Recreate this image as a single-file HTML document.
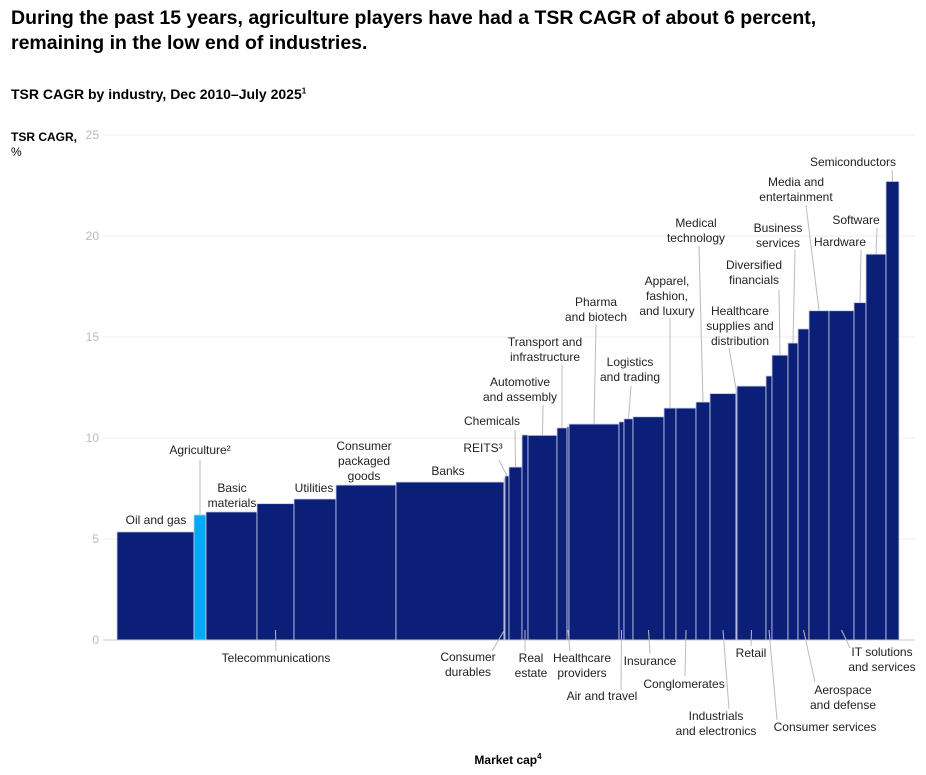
<!DOCTYPE html>
<html><head><meta charset="utf-8">
<style>
body{margin:0;background:#fff;width:926px;height:775px;overflow:hidden;font-family:"Liberation Sans",sans-serif;}
#t{position:absolute;left:11px;top:6px;font-size:19.5px;font-weight:bold;line-height:25px;color:#000;}
#s{position:absolute;left:11px;top:86px;font-size:14px;font-weight:bold;color:#000;}
#yl{position:absolute;left:11px;top:130px;font-size:12px;line-height:15px;color:#000;}
#xl{position:absolute;left:0;width:1016px;text-align:center;top:752px;font-size:12px;font-weight:bold;}
svg{position:absolute;left:0;top:0;}
</style></head><body>
<div id="t">During the past 15 years, agriculture players have had a TSR CAGR of about 6 percent,<br>remaining in the low end of industries.</div>
<div id="s">TSR CAGR by industry, Dec 2010–July 2025<sup style="font-size:8px">1</sup></div>
<div id="yl"><b>TSR CAGR,</b><br>%</div>
<div id="xl">Market cap<sup style="font-size:8px">4</sup></div>
<svg id="c" width="926" height="775"></svg>
<script>
const industries=["Oil and gas","Agriculture","Basic materials","Telecommunications","Utilities","Consumer packaged goods","Banks","Consumer durables","REITS","Chemicals","Real estate","Automotive and assembly","Transport and infrastructure","Healthcare providers","Pharma and biotech","Air and travel","Logistics and trading","Insurance","Apparel, fashion, and luxury","Conglomerates","Medical technology","Industrials and electronics","Healthcare supplies and distribution","Retail","Consumer services","Diversified financials","Business services","Aerospace and defense","Media and entertainment","IT solutions and services","Hardware","Software","Semiconductors"];
const marketCap=[77,12,51,37,42,60,108,1,4,13,6,29,10,2,50,5,9,31,12,20,14,26,1,29,6,16,10,11,20,25,12,20,13];
const tsrCagr=[5.35,6.19,6.34,6.75,6.98,7.67,7.82,8.0,8.12,8.56,10.15,10.13,10.5,10.55,10.69,10.8,10.95,11.05,11.48,11.48,11.78,12.2,12.3,12.57,13.07,14.1,14.7,15.4,16.3,16.3,16.7,19.1,22.7];
const yTicks=[0,5,10,15,20,25];
const svg=document.getElementById('c'),NS='http://www.w3.org/2000/svg';
const X0=117,X1=899,Y0=640,Y25=135;
const total=marketCap.reduce((a,b)=>a+b,0);
const xs=v=>X0+v/total*(X1-X0);
const ys=v=>Y0-v/25*(Y0-Y25);
function mk(t,a){const e=document.createElementNS(NS,t);for(const k in a)e.setAttribute(k,a[k]);svg.appendChild(e);return e;}
yTicks.forEach(t=>{
 const g=mk('line',{x1:103,x2:915,y1:ys(t),y2:ys(t),stroke:'#ececec','stroke-width':1});
 
 
 const l=mk('text',{x:99,y:ys(t)+4,'text-anchor':'end','font-size':12,fill:'#bbb'});
 l.textContent=t;
 
 
});
const bars=[];let cum=0;
industries.forEach((n,i)=>{
 const x=xs(cum),w=xs(cum+marketCap[i])-x;cum+=marketCap[i];
 const r=mk('rect',{x:x,y:ys(tsrCagr[i]),width:w,height:Y0-ys(tsrCagr[i]),fill:n==="Agriculture"?'#00a9f4':'#0b1f78',stroke:'#c8d0ea','stroke-width':0.8});
 
 
 bars.push({cx:x+w/2,top:ys(tsrCagr[i])});
});
mk('line',{x1:103,x2:915,y1:Y0,y2:Y0,stroke:'#ccc'});
// annotation: [barIndex, label lines, textX, firstBaselineY, lineStartX, lineStartY, below]
const ann=[
[0,["Oil and gas"],156,524,null],
[1,["Agriculture²"],200,454,200,460],
[2,["Basic","materials"],232,492,null],
[4,["Utilities"],314,492,null],
[5,["Consumer","packaged","goods"],364,450,null],
[6,["Banks"],448,475,null],
[8,["REITS³"],483,452,499,460],
[9,["Chemicals"],492,425,515,430],
[11,["Automotive","and assembly"],520,386,543,405],
[12,["Transport and","infrastructure"],545,346,562,365],
[14,["Pharma","and biotech"],596,306,596,325],
[16,["Logistics","and trading"],630,366,631,386],
[18,["Apparel,","fashion,","and luxury"],667,285,670,318],
[20,["Medical","technology"],696,227,699,246],
[22,["Healthcare","supplies and","distribution"],740,315,729,348],
[25,["Diversified","financials"],754,269,779,290],
[26,["Business","services"],778,232,795,250],
[28,["Media and","entertainment"],796,186,806,205],
[30,["Hardware"],840,246,861,250],
[31,["Software"],856,224,877,228],
[32,["Semiconductors"],853,166,892,170],
[3,["Telecommunications"],276,662,276,651,1],
[7,["Consumer","durables"],468,661,492,651,1],
[10,["Real","estate"],531,662,525,651,1],
[13,["Healthcare","providers"],582,662,570,651,1],
[15,["Air and travel"],602,700,621,690,1],
[17,["Insurance"],650,665,650,654,1],
[19,["Conglomerates"],684,688,685,676,1],
[21,["Industrials","and electronics"],716,720,729,709,1],
[23,["Retail"],751,657,751,646,1],
[24,["Consumer services"],825,731,777,720,1],
[27,["Aerospace","and defense"],843,694,815,682,1],
[29,["IT solutions","and services"],882,656,850,648,1]
];
ann.forEach(a=>{
 const [i,lines,tx,ty,lx,ly,below]=a;const b=bars[i];
 if(lx!=null){
  const ln=mk('line',{x1:lx,y1:ly,x2:b.cx,y2:below?(Y0-10):b.top,stroke:'#bbb','stroke-width':1});
  
  
 }
 const t=mk('text',{x:tx,y:ty,'text-anchor':'middle','font-size':12,fill:'#222'});
 
 
 lines.forEach((s,k)=>{const sp=document.createElementNS(NS,'tspan');sp.setAttribute('x',tx);sp.setAttribute('dy',k?15:0);sp.textContent=s;t.appendChild(sp);});
});
</script>
</body></html>
